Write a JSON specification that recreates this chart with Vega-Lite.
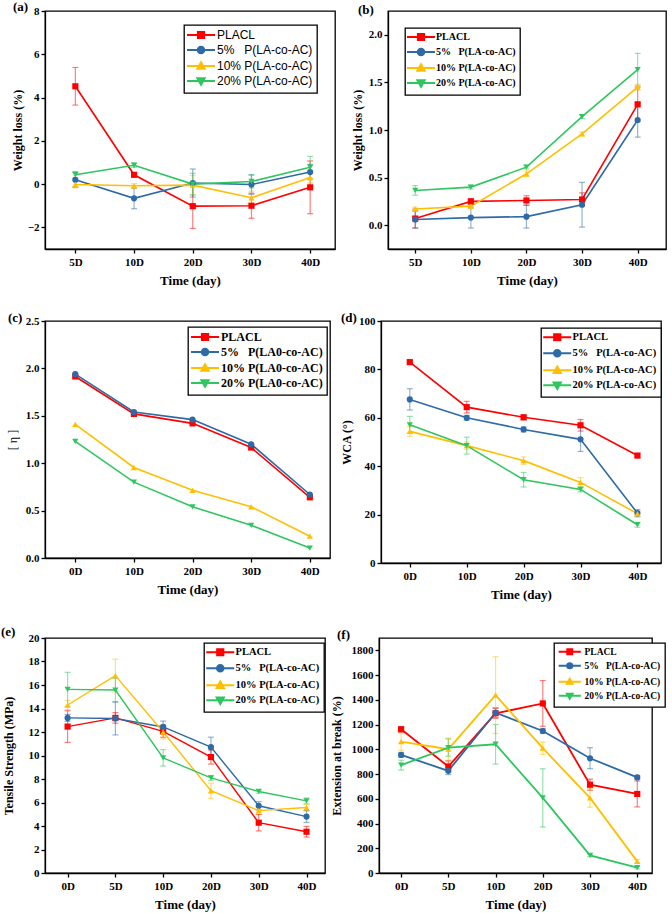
{
"$schema": "https://vega.github.io/schema/vega-lite/v6.json",
"padding": {"left": 0, "top": 0, "right": 0, "bottom": 0},
"background": "white",
"config": {
  "font": "Liberation Serif",
  "view": {"stroke": "#000", "strokeWidth": 1.3},
  "axis": {"domainColor": "#000", "domainWidth": 1.3, "tickColor": "#000", "tickWidth": 1.3, "tickSize": 4, "grid": false, "labelFont": "Liberation Serif", "labelFontWeight": "bold", "labelFontSize": 11, "labelColor": "#000", "titleFont": "Liberation Serif", "titleFontWeight": "bold", "titleFontSize": 12, "titleColor": "#000", "labelPadding": 2},
  "axisX": {"labelAngle": 0, "labelPadding": 3, "titlePadding": 7, "titleFontSize": 13},
  "legend": {"strokeColor": "#000", "strokeWidth": 1.3, "fillColor": "#fff", "padding": 4, "labelFont": "Liberation Serif", "labelFontWeight": "bold", "labelFontSize": 11, "labelColor": "#000", "symbolSize": 64, "symbolStrokeWidth": 1.8, "symbolOffset": 7, "labelOffset": 10, "rowPadding": 1, "direction": "vertical"},
  "title": {"anchor": "start", "frame": "group", "font": "Liberation Serif", "fontWeight": "bold", "fontSize": 13, "color": "#000", "baseline": "bottom"},
  "range": {
    "category": ["#ff0000", "#2e6aa6", "#ffbf00", "#2fc65f"],
    "symbol": ["M-3.5,0H3.5M-0.8,-0.8H0.8V0.8H-0.8Z", "M-3.5,0H3.5M-0.85,0A0.85,0.85,0,1,0,0.85,0A0.85,0.85,0,1,0,-0.85,0Z", "M-3.5,0H3.5M0,-1L0.95,0.7H-0.95Z", "M-3.5,0H3.5M0,1L0.95,-0.7H-0.95Z"]
  }
},
"resolve": {"scale": {"color": "independent", "fill": "independent", "stroke": "independent", "shape": "independent"}, "legend": {"color": "independent", "fill": "independent", "stroke": "independent", "shape": "independent"}},
"datasets": {
  "A": [
    {"d":"5D","s":"PLACL","v":4.52,"e":0.87},{"d":"10D","s":"PLACL","v":0.43,"e":0.1},{"d":"20D","s":"PLACL","v":-1.02,"e":1.03},{"d":"30D","s":"PLACL","v":-1.0,"e":0.58},{"d":"40D","s":"PLACL","v":-0.15,"e":1.22},
    {"d":"5D","s":"5%","v":0.2,"e":0.35},{"d":"10D","s":"5%","v":-0.66,"e":0.48},{"d":"20D","s":"5%","v":0.05,"e":0.65},{"d":"30D","s":"5%","v":-0.02,"e":0.45},{"d":"40D","s":"5%","v":0.56,"e":0.35},
    {"d":"5D","s":"10%","v":-0.02,"e":0.15},{"d":"10D","s":"10%","v":-0.08,"e":0.1},{"d":"20D","s":"10%","v":-0.05,"e":0.45},{"d":"30D","s":"10%","v":-0.63,"e":0.3},{"d":"40D","s":"10%","v":0.3,"e":0.25},
    {"d":"5D","s":"20%","v":0.43,"e":0.15},{"d":"10D","s":"20%","v":0.87,"e":0.1},{"d":"20D","s":"20%","v":0.0,"e":0.5},{"d":"30D","s":"20%","v":0.12,"e":0.3},{"d":"40D","s":"20%","v":0.78,"e":0.5}
  ],
  "B": [
    {"d":"5D","s":"PLACL","v":0.07,"e":0.1},{"d":"10D","s":"PLACL","v":0.25,"e":0.03},{"d":"20D","s":"PLACL","v":0.26,"e":0.05},{"d":"30D","s":"PLACL","v":0.27,"e":0.07},{"d":"40D","s":"PLACL","v":1.27,"e":0.18},
    {"d":"5D","s":"5%","v":0.06,"e":0.09},{"d":"10D","s":"5%","v":0.08,"e":0.11},{"d":"20D","s":"5%","v":0.09,"e":0.12},{"d":"30D","s":"5%","v":0.215,"e":0.235},{"d":"40D","s":"5%","v":1.105,"e":0.18},
    {"d":"5D","s":"10%","v":0.17,"e":0.02},{"d":"10D","s":"10%","v":0.2,"e":0.02},{"d":"20D","s":"10%","v":0.54,"e":0.03},{"d":"30D","s":"10%","v":0.96,"e":0.02},{"d":"40D","s":"10%","v":1.45,"e":0.03},
    {"d":"5D","s":"20%","v":0.365,"e":0.05},{"d":"10D","s":"20%","v":0.4,"e":0.02},{"d":"20D","s":"20%","v":0.61,"e":0.02},{"d":"30D","s":"20%","v":1.14,"e":0.02},{"d":"40D","s":"20%","v":1.635,"e":0.17}
  ],
  "C": [
    {"d":"0D","s":"PLACL","v":1.915,"e":0},{"d":"10D","s":"PLACL","v":1.52,"e":0},{"d":"20D","s":"PLACL","v":1.42,"e":0},{"d":"30D","s":"PLACL","v":1.165,"e":0},{"d":"40D","s":"PLACL","v":0.64,"e":0},
    {"d":"0D","s":"5%","v":1.94,"e":0},{"d":"10D","s":"5%","v":1.54,"e":0},{"d":"20D","s":"5%","v":1.46,"e":0},{"d":"30D","s":"5%","v":1.2,"e":0},{"d":"40D","s":"5%","v":0.67,"e":0},
    {"d":"0D","s":"10%","v":1.41,"e":0},{"d":"10D","s":"10%","v":0.955,"e":0},{"d":"20D","s":"10%","v":0.715,"e":0},{"d":"30D","s":"10%","v":0.54,"e":0},{"d":"40D","s":"10%","v":0.23,"e":0},
    {"d":"0D","s":"20%","v":1.23,"e":0},{"d":"10D","s":"20%","v":0.8,"e":0},{"d":"20D","s":"20%","v":0.54,"e":0},{"d":"30D","s":"20%","v":0.345,"e":0},{"d":"40D","s":"20%","v":0.105,"e":0}
  ],
  "D": [
    {"d":"0D","s":"PLACL","v":83,"e":0.8},{"d":"10D","s":"PLACL","v":64.4,"e":2.4},{"d":"20D","s":"PLACL","v":60.2,"e":1},{"d":"30D","s":"PLACL","v":56.9,"e":2.4},{"d":"40D","s":"PLACL","v":44.4,"e":0.8},
    {"d":"0D","s":"5%","v":67.6,"e":4.4},{"d":"10D","s":"5%","v":60.0,"e":1},{"d":"20D","s":"5%","v":55.2,"e":1},{"d":"30D","s":"5%","v":51.1,"e":5},{"d":"40D","s":"5%","v":20.6,"e":1.5},
    {"d":"0D","s":"10%","v":54.4,"e":2},{"d":"10D","s":"10%","v":48.5,"e":1.5},{"d":"20D","s":"10%","v":42.3,"e":1.5},{"d":"30D","s":"10%","v":33.3,"e":2},{"d":"40D","s":"10%","v":20.4,"e":1},
    {"d":"0D","s":"20%","v":57.1,"e":3.5},{"d":"10D","s":"20%","v":48.5,"e":3.5},{"d":"20D","s":"20%","v":34.4,"e":3},{"d":"30D","s":"20%","v":30.4,"e":1},{"d":"40D","s":"20%","v":15.8,"e":1}
  ],
  "E": [
    {"d":"0D","s":"PLACL","v":12.46,"e":1.35},{"d":"5D","s":"PLACL","v":13.2,"e":0.45},{"d":"10D","s":"PLACL","v":12.05,"e":0.5},{"d":"20D","s":"PLACL","v":9.87,"e":0.6},{"d":"30D","s":"PLACL","v":4.28,"e":0.7},{"d":"40D","s":"PLACL","v":3.51,"e":0.45},
    {"d":"0D","s":"5%","v":13.2,"e":0.3},{"d":"5D","s":"5%","v":13.15,"e":1.4},{"d":"10D","s":"5%","v":12.43,"e":0.5},{"d":"20D","s":"5%","v":10.71,"e":0.85},{"d":"30D","s":"5%","v":5.72,"e":0.35},{"d":"40D","s":"5%","v":4.8,"e":0.5},
    {"d":"0D","s":"10%","v":14.3,"e":0.4},{"d":"5D","s":"10%","v":16.8,"e":1.4},{"d":"10D","s":"10%","v":12.0,"e":0.6},{"d":"20D","s":"10%","v":7.0,"e":0.65},{"d":"30D","s":"10%","v":5.31,"e":0.3},{"d":"40D","s":"10%","v":5.57,"e":0.25},
    {"d":"0D","s":"20%","v":15.63,"e":1.45},{"d":"5D","s":"20%","v":15.57,"e":1.0},{"d":"10D","s":"20%","v":9.8,"e":0.7},{"d":"20D","s":"20%","v":8.09,"e":0.2},{"d":"30D","s":"20%","v":6.94,"e":0.15},{"d":"40D","s":"20%","v":6.14,"e":0.25}
  ],
  "F": [
    {"d":"0D","s":"PLACL","v":1162,"e":20},{"d":"5D","s":"PLACL","v":861,"e":45},{"d":"10D","s":"PLACL","v":1291,"e":40},{"d":"20D","s":"PLACL","v":1371,"e":185},{"d":"30D","s":"PLACL","v":714,"e":45},{"d":"40D","s":"PLACL","v":639,"e":105},
    {"d":"0D","s":"5%","v":955,"e":20},{"d":"5D","s":"5%","v":826,"e":30},{"d":"10D","s":"5%","v":1296,"e":40},{"d":"20D","s":"5%","v":1148,"e":20},{"d":"30D","s":"5%","v":928,"e":85},{"d":"40D","s":"5%","v":773,"e":15},
    {"d":"0D","s":"10%","v":1062,"e":70},{"d":"5D","s":"10%","v":1001,"e":90},{"d":"10D","s":"10%","v":1438,"e":310},{"d":"20D","s":"10%","v":1009,"e":50},{"d":"30D","s":"10%","v":607,"e":75},{"d":"40D","s":"10%","v":94,"e":15},
    {"d":"0D","s":"20%","v":872,"e":40},{"d":"5D","s":"20%","v":1014,"e":70},{"d":"10D","s":"20%","v":1041,"e":160},{"d":"20D","s":"20%","v":607,"e":235},{"d":"30D","s":"20%","v":142,"e":10},{"d":"40D","s":"20%","v":43,"e":10}
  ]
},
"vconcat": [
 {"hconcat": [
  {"width": 290, "height": 238, "data": {"name": "A"},
   "title": {"text": "(a)", "dx": -32, "offset": -9},
   "encoding": {
     "x": {"field": "d", "type": "ordinal", "scale": {"type": "point", "domain": ["5D","10D","20D","30D","40D"], "padding": 0.47, "align": 0.55}, "axis": {"title": "Time (day)"}},
     "y": {"field": "v", "type": "quantitative", "scale": {"domain": [-3, 8], "nice": false, "zero": false}, "axis": {"title": "Weight loss (%)", "values": [-2,0,2,4,6,8], "minExtent": 17, "maxExtent": 17, "titlePadding": 4}},
     "color": {"field": "s", "type": "nominal", "scale": {"range": ["#ffbf00", "#2fc65f", "#2e6aa6", "#ff0000"]}, "legend": null}
   },
   "layer": [
     {"transform": [{"filter": "datum.e > 0"}], "mark": {"type": "errorbar", "ticks": {"size": 6}, "opacity": 0.5, "thickness": 1.2}, "encoding": {"yError": {"field": "e"}}},
     {"mark": {"type": "line", "strokeWidth": 1.6}, "encoding": {"order": {"value": null}}},
     {"transform": [{"filter": "datum.s == 'PLACL'"}], "mark": {"type": "point", "filled": true, "shape": "square", "size": 38, "opacity": 1}},
     {"transform": [{"filter": "datum.s == '5%'"}], "mark": {"type": "point", "filled": true, "shape": "circle", "size": 38, "opacity": 1}},
     {"transform": [{"filter": "datum.s == '10%'"}], "mark": {"type": "point", "filled": true, "shape": "triangle-up", "size": 38, "opacity": 1}},
     {"transform": [{"filter": "datum.s == '20%'"}], "mark": {"type": "point", "filled": true, "shape": "triangle-down", "size": 38, "opacity": 1}},
     {"transform": [{"filter": "false"}], "mark": {"type": "point", "filled": true, "opacity": 1},
      "encoding": {
        "color": null,
        "fill": {"field": "s", "type": "nominal", "scale": {"domain": ["PLACL","5%","10%","20%"]}, "legend": {"title": null, "orient": "none", "legendX": 139, "legendY": 14, "labelFont": "Liberation Sans", "labelFontWeight": "normal", "labelFontSize": 12, "labelExpr": "datum.label == 'PLACL' ? 'PLACL' : datum.label == '5%' ? '5%\u00a0\u00a0\u00a0P(LA-co-AC)' : datum.label + ' P(LA-co-AC)'"}},
        "stroke": {"field": "s", "type": "nominal", "scale": {"domain": ["PLACL","5%","10%","20%"]}, "legend": {"title": null, "orient": "none", "legendX": 139, "legendY": 14, "labelFont": "Liberation Sans", "labelFontWeight": "normal", "labelFontSize": 12, "labelExpr": "datum.label == 'PLACL' ? 'PLACL' : datum.label == '5%' ? '5%\u00a0\u00a0\u00a0P(LA-co-AC)' : datum.label + ' P(LA-co-AC)'"}},
        "shape": {"field": "s", "type": "nominal", "scale": {"domain": ["PLACL","5%","10%","20%"]}, "legend": {"title": null, "orient": "none", "legendX": 139, "legendY": 14, "labelFont": "Liberation Sans", "labelFontWeight": "normal", "labelFontSize": 12, "labelExpr": "datum.label == 'PLACL' ? 'PLACL' : datum.label == '5%' ? '5%\u00a0\u00a0\u00a0P(LA-co-AC)' : datum.label + ' P(LA-co-AC)'"}}
      }}
   ]
  },
  {"width": 278, "height": 238, "data": {"name": "B"},
   "title": {"text": "(b)", "dx": -30, "offset": -6},
   "encoding": {
     "x": {"field": "d", "type": "ordinal", "scale": {"type": "point", "domain": ["5D","10D","20D","30D","40D"], "padding": 0.5, "align": 0.49}, "axis": {"title": "Time (day)"}},
     "y": {"field": "v", "type": "quantitative", "scale": {"domain": [-0.25, 2.25], "nice": false, "zero": false}, "axis": {"title": "Weight loss (%)", "values": [0,0.5,1,1.5,2], "format": ".1f", "minExtent": 20, "maxExtent": 20, "titlePadding": 4}},
     "color": {"field": "s", "type": "nominal", "scale": {"range": ["#ffbf00", "#2fc65f", "#2e6aa6", "#ff0000"]}, "legend": null}
   },
   "layer": [
     {"transform": [{"filter": "datum.e > 0"}], "mark": {"type": "errorbar", "ticks": {"size": 6}, "opacity": 0.5, "thickness": 1.2}, "encoding": {"yError": {"field": "e"}}},
     {"mark": {"type": "line", "strokeWidth": 1.6}, "encoding": {"order": {"value": null}}},
     {"transform": [{"filter": "datum.s == 'PLACL'"}], "mark": {"type": "point", "filled": true, "shape": "square", "size": 38, "opacity": 1}},
     {"transform": [{"filter": "datum.s == '5%'"}], "mark": {"type": "point", "filled": true, "shape": "circle", "size": 38, "opacity": 1}},
     {"transform": [{"filter": "datum.s == '10%'"}], "mark": {"type": "point", "filled": true, "shape": "triangle-up", "size": 38, "opacity": 1}},
     {"transform": [{"filter": "datum.s == '20%'"}], "mark": {"type": "point", "filled": true, "shape": "triangle-down", "size": 38, "opacity": 1}},
     {"transform": [{"filter": "false"}], "mark": {"type": "point", "filled": true, "opacity": 1},
      "encoding": {
        "color": null,
        "fill": {"field": "s", "type": "nominal", "scale": {"domain": ["PLACL","5%","10%","20%"]}, "legend": {"title": null, "orient": "none", "legendX": 17, "legendY": 17, "labelFontSize": 10, "labelExpr": "datum.label == 'PLACL' ? 'PLACL' : datum.label == '5%' ? '5%\u00a0\u00a0\u00a0P(LA-co-AC)' : datum.label + ' P(LA-co-AC)'"}},
        "stroke": {"field": "s", "type": "nominal", "scale": {"domain": ["PLACL","5%","10%","20%"]}, "legend": {"title": null, "orient": "none", "legendX": 17, "legendY": 17, "labelFontSize": 10, "labelExpr": "datum.label == 'PLACL' ? 'PLACL' : datum.label == '5%' ? '5%\u00a0\u00a0\u00a0P(LA-co-AC)' : datum.label + ' P(LA-co-AC)'"}},
        "shape": {"field": "s", "type": "nominal", "scale": {"domain": ["PLACL","5%","10%","20%"]}, "legend": {"title": null, "orient": "none", "legendX": 17, "legendY": 17, "labelFontSize": 10, "labelExpr": "datum.label == 'PLACL' ? 'PLACL' : datum.label == '5%' ? '5%\u00a0\u00a0\u00a0P(LA-co-AC)' : datum.label + ' P(LA-co-AC)'"}}
      }}
   ]
  }
 ], "spacing": 14, "resolve": {"scale": {"color": "independent", "fill": "independent", "stroke": "independent", "shape": "independent"}, "legend": {"color": "independent", "fill": "independent", "stroke": "independent", "shape": "independent"}}},
 {"hconcat": [
  {"width": 285, "height": 237, "data": {"name": "C"},
   "title": {"text": "(c)", "dx": -37, "offset": -10},
   "encoding": {
     "x": {"field": "d", "type": "ordinal", "scale": {"type": "point", "domain": ["0D","10D","20D","30D","40D"], "padding": 0.43, "align": 0.6}, "axis": {"title": "Time (day)"}},
     "y": {"field": "v", "type": "quantitative", "scale": {"domain": [0, 2.5], "nice": false, "zero": false}, "axis": {"title": "[ η ]", "titleFontWeight": "normal", "values": [0,0.5,1,1.5,2,2.5], "format": ".1f", "minExtent": 23, "maxExtent": 23, "titlePadding": 3}},
     "color": {"field": "s", "type": "nominal", "scale": {"range": ["#ffbf00", "#2fc65f", "#2e6aa6", "#ff0000"]}, "legend": null}
   },
   "layer": [
     {"mark": {"type": "line", "strokeWidth": 1.6}, "encoding": {"order": {"value": null}}},
     {"transform": [{"filter": "datum.s == 'PLACL'"}], "mark": {"type": "point", "filled": true, "shape": "square", "size": 38, "opacity": 1}},
     {"transform": [{"filter": "datum.s == '5%'"}], "mark": {"type": "point", "filled": true, "shape": "circle", "size": 38, "opacity": 1}},
     {"transform": [{"filter": "datum.s == '10%'"}], "mark": {"type": "point", "filled": true, "shape": "triangle-up", "size": 38, "opacity": 1}},
     {"transform": [{"filter": "datum.s == '20%'"}], "mark": {"type": "point", "filled": true, "shape": "triangle-down", "size": 38, "opacity": 1}},
     {"transform": [{"filter": "false"}], "mark": {"type": "point", "filled": true, "opacity": 1},
      "encoding": {
        "color": null,
        "fill": {"field": "s", "type": "nominal", "scale": {"domain": ["PLACL","5%","10%","20%"]}, "legend": {"title": null, "orient": "none", "legendX": 143, "legendY": 6, "labelFontSize": 12, "labelExpr": "datum.label == 'PLACL' ? 'PLACL' : datum.label == '5%' ? '5%\u00a0\u00a0\u00a0P(LA0-co-AC)' : datum.label + ' P(LA0-co-AC)'"}},
        "stroke": {"field": "s", "type": "nominal", "scale": {"domain": ["PLACL","5%","10%","20%"]}, "legend": {"title": null, "orient": "none", "legendX": 143, "legendY": 6, "labelFontSize": 12, "labelExpr": "datum.label == 'PLACL' ? 'PLACL' : datum.label == '5%' ? '5%\u00a0\u00a0\u00a0P(LA0-co-AC)' : datum.label + ' P(LA0-co-AC)'"}},
        "shape": {"field": "s", "type": "nominal", "scale": {"domain": ["PLACL","5%","10%","20%"]}, "legend": {"title": null, "orient": "none", "legendX": 143, "legendY": 6, "labelFontSize": 12, "labelExpr": "datum.label == 'PLACL' ? 'PLACL' : datum.label == '5%' ? '5%\u00a0\u00a0\u00a0P(LA0-co-AC)' : datum.label + ' P(LA0-co-AC)'"}}
      }}
   ]
  },
  {"width": 280, "height": 242, "data": {"name": "D"},
   "title": {"text": "(d)", "dx": -40, "offset": -10},
   "encoding": {
     "x": {"field": "d", "type": "ordinal", "scale": {"type": "point", "domain": ["0D","10D","20D","30D","40D"], "padding": 0.46, "align": 0.55}, "axis": {"title": "Time (day)"}},
     "y": {"field": "v", "type": "quantitative", "scale": {"domain": [0, 100], "nice": false, "zero": false}, "axis": {"title": "WCA (°)", "values": [0,20,40,60,80,100], "minExtent": 24, "maxExtent": 24, "titlePadding": 4}},
     "color": {"field": "s", "type": "nominal", "scale": {"range": ["#ffbf00", "#2fc65f", "#2e6aa6", "#ff0000"]}, "legend": null}
   },
   "layer": [
     {"transform": [{"filter": "datum.e > 0"}], "mark": {"type": "errorbar", "ticks": {"size": 6}, "opacity": 0.5, "thickness": 1.2}, "encoding": {"yError": {"field": "e"}}},
     {"mark": {"type": "line", "strokeWidth": 1.6}, "encoding": {"order": {"value": null}}},
     {"transform": [{"filter": "datum.s == 'PLACL'"}], "mark": {"type": "point", "filled": true, "shape": "square", "size": 38, "opacity": 1}},
     {"transform": [{"filter": "datum.s == '5%'"}], "mark": {"type": "point", "filled": true, "shape": "circle", "size": 38, "opacity": 1}},
     {"transform": [{"filter": "datum.s == '10%'"}], "mark": {"type": "point", "filled": true, "shape": "triangle-up", "size": 38, "opacity": 1}},
     {"transform": [{"filter": "datum.s == '20%'"}], "mark": {"type": "point", "filled": true, "shape": "triangle-down", "size": 38, "opacity": 1}},
     {"transform": [{"filter": "false"}], "mark": {"type": "point", "filled": true, "opacity": 1},
      "encoding": {
        "color": null,
        "fill": {"field": "s", "type": "nominal", "scale": {"domain": ["PLACL","5%","10%","20%"]}, "legend": {"title": null, "orient": "none", "legendX": 160, "legendY": 7, "labelFontSize": 10.5, "labelExpr": "datum.label == 'PLACL' ? 'PLACL' : datum.label == '5%' ? '5%\u00a0\u00a0\u00a0P(LA-co-AC)' : datum.label + ' P(LA-co-AC)'"}},
        "stroke": {"field": "s", "type": "nominal", "scale": {"domain": ["PLACL","5%","10%","20%"]}, "legend": {"title": null, "orient": "none", "legendX": 160, "legendY": 7, "labelFontSize": 10.5, "labelExpr": "datum.label == 'PLACL' ? 'PLACL' : datum.label == '5%' ? '5%\u00a0\u00a0\u00a0P(LA-co-AC)' : datum.label + ' P(LA-co-AC)'"}},
        "shape": {"field": "s", "type": "nominal", "scale": {"domain": ["PLACL","5%","10%","20%"]}, "legend": {"title": null, "orient": "none", "legendX": 160, "legendY": 7, "labelFontSize": 10.5, "labelExpr": "datum.label == 'PLACL' ? 'PLACL' : datum.label == '5%' ? '5%\u00a0\u00a0\u00a0P(LA-co-AC)' : datum.label + ' P(LA-co-AC)'"}}
      }}
   ]
  }
 ], "spacing": 8, "resolve": {"scale": {"color": "independent", "fill": "independent", "stroke": "independent", "shape": "independent"}, "legend": {"color": "independent", "fill": "independent", "stroke": "independent", "shape": "independent"}}},
 {"hconcat": [
  {"width": 280, "height": 235, "data": {"name": "E"},
   "title": {"text": "(e)", "dx": -44, "offset": -7},
   "encoding": {
     "x": {"field": "d", "type": "ordinal", "scale": {"type": "point", "domain": ["0D","5D","10D","20D","30D","40D"], "padding": 0.43, "align": 0.55}, "axis": {"title": "Time (day)"}},
     "y": {"field": "v", "type": "quantitative", "scale": {"domain": [0, 20], "nice": false, "zero": false}, "axis": {"title": "Tensile Strength (MPa)", "values": [0,2,4,6,8,10,12,14,16,18,20], "minExtent": 26, "maxExtent": 26, "titlePadding": 4}},
     "color": {"field": "s", "type": "nominal", "scale": {"range": ["#ffbf00", "#2fc65f", "#2e6aa6", "#ff0000"]}, "legend": null}
   },
   "layer": [
     {"transform": [{"filter": "datum.e > 0"}], "mark": {"type": "errorbar", "ticks": {"size": 6}, "opacity": 0.5, "thickness": 1.2}, "encoding": {"yError": {"field": "e"}}},
     {"mark": {"type": "line", "strokeWidth": 1.4}, "encoding": {"order": {"value": null}}},
     {"transform": [{"filter": "datum.s == 'PLACL'"}], "mark": {"type": "point", "filled": true, "shape": "square", "size": 38, "opacity": 1}},
     {"transform": [{"filter": "datum.s == '5%'"}], "mark": {"type": "point", "filled": true, "shape": "circle", "size": 38, "opacity": 1}},
     {"transform": [{"filter": "datum.s == '10%'"}], "mark": {"type": "point", "filled": true, "shape": "triangle-up", "size": 38, "opacity": 1}},
     {"transform": [{"filter": "datum.s == '20%'"}], "mark": {"type": "point", "filled": true, "shape": "triangle-down", "size": 38, "opacity": 1}},
     {"transform": [{"filter": "false"}], "mark": {"type": "point", "filled": true, "opacity": 1},
      "encoding": {
        "color": null,
        "fill": {"field": "s", "type": "nominal", "scale": {"domain": ["PLACL","5%","10%","20%"]}, "legend": {"title": null, "orient": "none", "legendX": 159, "legendY": 5, "labelFontSize": 10.5, "labelExpr": "datum.label == 'PLACL' ? 'PLACL' : datum.label == '5%' ? '5%\u00a0\u00a0\u00a0P(LA-co-AC)' : datum.label + ' P(LA-co-AC)'"}},
        "stroke": {"field": "s", "type": "nominal", "scale": {"domain": ["PLACL","5%","10%","20%"]}, "legend": {"title": null, "orient": "none", "legendX": 159, "legendY": 5, "labelFontSize": 10.5, "labelExpr": "datum.label == 'PLACL' ? 'PLACL' : datum.label == '5%' ? '5%\u00a0\u00a0\u00a0P(LA-co-AC)' : datum.label + ' P(LA-co-AC)'"}},
        "shape": {"field": "s", "type": "nominal", "scale": {"domain": ["PLACL","5%","10%","20%"]}, "legend": {"title": null, "orient": "none", "legendX": 159, "legendY": 5, "labelFontSize": 10.5, "labelExpr": "datum.label == 'PLACL' ? 'PLACL' : datum.label == '5%' ? '5%\u00a0\u00a0\u00a0P(LA-co-AC)' : datum.label + ' P(LA-co-AC)'"}}
      }}
   ]
  },
  {"width": 273, "height": 235, "data": {"name": "F"},
   "title": {"text": "(f)", "dx": -42, "offset": -4},
   "encoding": {
     "x": {"field": "d", "type": "ordinal", "scale": {"type": "point", "domain": ["0D","5D","10D","20D","30D","40D"], "padding": 0.39, "align": 0.6}, "axis": {"title": "Time (day)"}},
     "y": {"field": "v", "type": "quantitative", "scale": {"domain": [0, 1900], "nice": false, "zero": false}, "axis": {"title": "Extension at break (%)", "values": [0,200,400,600,800,1000,1200,1400,1600,1800], "format": "d", "minExtent": 32, "maxExtent": 32, "titlePadding": 4}},
     "color": {"field": "s", "type": "nominal", "scale": {"range": ["#ffbf00", "#2fc65f", "#2e6aa6", "#ff0000"]}, "legend": null}
   },
   "layer": [
     {"transform": [{"filter": "datum.e > 0"}], "mark": {"type": "errorbar", "ticks": {"size": 6}, "opacity": 0.5, "thickness": 1.2}, "encoding": {"yError": {"field": "e"}}},
     {"mark": {"type": "line", "strokeWidth": 1.8}, "encoding": {"order": {"value": null}}},
     {"transform": [{"filter": "datum.s == 'PLACL'"}], "mark": {"type": "point", "filled": true, "shape": "square", "size": 38, "opacity": 1}},
     {"transform": [{"filter": "datum.s == '5%'"}], "mark": {"type": "point", "filled": true, "shape": "circle", "size": 38, "opacity": 1}},
     {"transform": [{"filter": "datum.s == '10%'"}], "mark": {"type": "point", "filled": true, "shape": "triangle-up", "size": 38, "opacity": 1}},
     {"transform": [{"filter": "datum.s == '20%'"}], "mark": {"type": "point", "filled": true, "shape": "triangle-down", "size": 38, "opacity": 1}},
     {"transform": [{"filter": "false"}], "mark": {"type": "point", "filled": true, "opacity": 1},
      "encoding": {
        "color": null,
        "fill": {"field": "s", "type": "nominal", "scale": {"domain": ["PLACL","5%","10%","20%"]}, "legend": {"title": null, "orient": "none", "legendX": 175, "legendY": 5, "labelFontSize": 9.5, "symbolSize": 40, "labelExpr": "datum.label == 'PLACL' ? 'PLACL' : datum.label == '5%' ? '5%\u00a0\u00a0\u00a0P(LA-co-AC)' : datum.label + ' P(LA-co-AC)'"}},
        "stroke": {"field": "s", "type": "nominal", "scale": {"domain": ["PLACL","5%","10%","20%"]}, "legend": {"title": null, "orient": "none", "legendX": 175, "legendY": 5, "labelFontSize": 9.5, "symbolSize": 40, "labelExpr": "datum.label == 'PLACL' ? 'PLACL' : datum.label == '5%' ? '5%\u00a0\u00a0\u00a0P(LA-co-AC)' : datum.label + ' P(LA-co-AC)'"}},
        "shape": {"field": "s", "type": "nominal", "scale": {"domain": ["PLACL","5%","10%","20%"]}, "legend": {"title": null, "orient": "none", "legendX": 175, "legendY": 5, "labelFontSize": 9.5, "symbolSize": 40, "labelExpr": "datum.label == 'PLACL' ? 'PLACL' : datum.label == '5%' ? '5%\u00a0\u00a0\u00a0P(LA-co-AC)' : datum.label + ' P(LA-co-AC)'"}}
      }}
   ]
  }
 ], "spacing": 3, "resolve": {"scale": {"color": "independent", "fill": "independent", "stroke": "independent", "shape": "independent"}, "legend": {"color": "independent", "fill": "independent", "stroke": "independent", "shape": "independent"}}}
], "spacing": 23
}
